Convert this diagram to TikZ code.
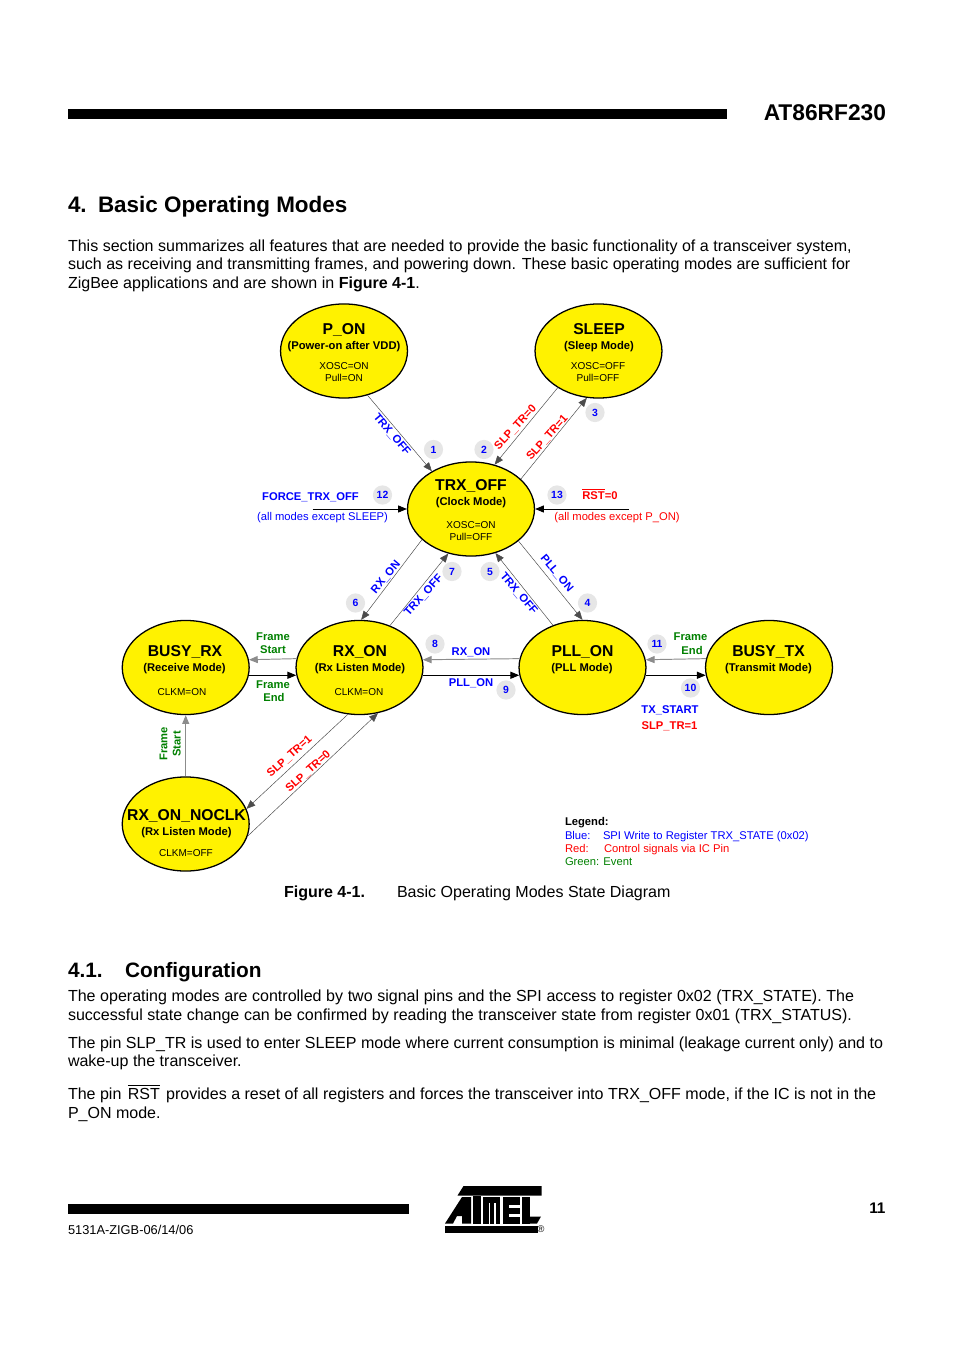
\documentclass[tikz,border=0pt]{standalone}
\usepackage{fontspec}
\setmainfont{Liberation Sans}
\usetikzlibrary{arrows.meta,shapes.geometric}
\definecolor{lblue}{HTML}{0000FF}
\definecolor{lred}{HTML}{FF0000}
\definecolor{lgreen}{HTML}{008000}
\definecolor{lgray}{HTML}{E6E6E6}
\newcommand{\fs}[1]{\fontsize{#1}{#1}\selectfont}
\tikzset{
  state/.style={ellipse,draw=black,line width=0.8pt,fill=yellow,minimum width=79.2pt,minimum height=58.7pt,inner sep=0pt},
  txt/.style={inner sep=0pt,outer sep=0pt,anchor=center},
  title/.style={txt,font=\fs{9.8}\bfseries,text height=7.2pt,text depth=0pt},
  sub/.style={txt,font=\fs{7}\bfseries,text height=5pt,text depth=0pt},
  info/.style={txt,font=\fs{6.25},text height=4.5pt,text depth=0pt},
  lab/.style={txt,font=\fs{7}\bfseries,text height=5pt,text depth=0pt},
  thin lab/.style={txt,font=\fs{7},text height=5pt,text depth=0pt},
  num/.style={circle,fill=lgray,minimum size=12pt,inner sep=0pt,text=lblue,font=\fs{6.5}\bfseries},
  body/.style={inner sep=0pt,outer sep=0pt,anchor=base west,font=\fs{10}},
  leg/.style={inner sep=0pt,outer sep=0pt,anchor=base west,font=\fs{7}},
  conn/.style={-{Triangle[length=5.5pt,width=4.4pt]},line width=0.3pt,draw=black!70},
  connk/.style={-{Triangle[length=5.5pt,width=4.4pt]},line width=0.6pt,draw=black},
  connl/.style={-{Triangle[length=5.5pt,width=4.4pt]},line width=0.6pt,draw=black!45},
}
\begin{document}
\begin{tikzpicture}[x=0.624pt,y=-0.624pt]
\useasboundingbox (0,0) rectangle (954,1351);
% header
\fill[black] (68,109) rectangle (727,119);
\node[txt,anchor=base east,font=\fs{14.2}\bfseries] (hdr) at (886,120.5) {AT86RF230};
\node[txt,anchor=base west,font=\fs{14}\bfseries] (h1n) at (68,213) {4.};
\node[txt,anchor=base west,font=\fs{14}\bfseries] (h1) at (98,213) {Basic Operating Modes};
\node[body] (p1) at (68,252) {\makebox[489pt][s]{This section summarizes all features that are needed to provide the basic functionality of a transceiver system,}};
\node[body] (p2) at (68,270) {such as receiving and transmitting frames, and powering down. These basic operating modes are sufficient for};
\node[body] (p3) at (68,289) {ZigBee applications and are shown in \textbf{Figure 4-1}.};
% states
\node[state] (PON) at (344,351) {};
\node[state] (SLEEP) at (598.5,351) {};
\node[state] (TRX) at (471,509) {};
\node[state] (BRX) at (185.7,667.5) {};
\node[state] (RXON) at (359.5,667.5) {};
\node[state] (PLL) at (582.5,667.5) {};
\node[state] (BTX) at (769,667.5) {};
\node[state] (NOCLK) at (185.7,824) {};
\node[title] (a1) at (344,328.5) {P\_ON};
\node[sub] (a2) at (344,345) {(Power-on after VDD)};
\node[info] (a3) at (344,365.5) {XOSC=ON};
\node[info] (a4) at (344,377.5) {Pull=ON};
\node[title] (b1) at (599,328.5) {SLEEP};
\node[sub] (b2) at (599,345) {(Sleep Mode)};
\node[info] (b3) at (598,365.5) {XOSC=OFF};
\node[info] (b4) at (598,377.5) {Pull=OFF};
\node[title] (c1) at (471,485) {TRX\_OFF};
\node[sub] (c2) at (471,501) {(Clock Mode)};
\node[info] (c3) at (471,524.5) {XOSC=ON};
\node[info] (c4) at (471,537) {Pull=OFF};
\node[title] (d1) at (185,650.5) {BUSY\_RX};
\node[sub] (d2) at (184.5,667) {(Receive Mode)};
\node[info] (d3) at (182,691.5) {CLKM=ON};
\node[title] (e1) at (360,650.5) {RX\_ON};
\node[sub] (e2) at (360,667) {(Rx Listen Mode)};
\node[info] (e3) at (359,691.5) {CLKM=ON};
\node[title] (f1) at (582.5,650.5) {PLL\_ON};
\node[sub] (f2) at (582,667) {(PLL Mode)};
\node[title] (g1) at (768.5,650.5) {BUSY\_TX};
\node[sub] (g2) at (768.5,667) {(Transmit Mode)};
\node[title] (h1t) at (186.5,814.5) {RX\_ON\_NOCLK};
\node[sub] (h2t) at (186.5,831) {(Rx Listen Mode)};
\node[info] (h3t) at (186,852.5) {CLKM=OFF};
% connectors
\coordinate (f12) at (312.7,509);
\coordinate (f13) at (629,509);
\draw[conn] (PON.-62.4) -- (TRX.136);
\draw[conn] (SLEEP.222.3) -- (TRX.62.3);
\draw[conn] (TRX.31.7) -- (SLEEP.256.5);
\draw[connk] (f12) -- (TRX.west);
\draw[connk] (f13) -- (TRX.east);
\draw[conn] (TRX.212.9) -- (RXON.88.5);
\draw[conn] (RXON.54.3) -- (TRX.243.4);
\draw[conn] (PLL.125.3) -- (TRX.-61.4);
\draw[conn] (TRX.-34.3) -- (PLL.90);
\draw[connl] (PLL.172.8) -- (RXON.7.2);
\draw[connk] (RXON.-7.2) -- (PLL.187.2);
\draw[connl] (RXON.172.8) -- (BRX.7.2);
\draw[connk] (BRX.-7.2) -- (RXON.187.2);
\draw[connk] (PLL.-7.2) -- (BTX.187.2);
\draw[connl] (BTX.172.8) -- (PLL.7.2);
\draw[connl] (NOCLK.north) -- (BRX.south);
\draw[conn] (RXON.256.5) -- (NOCLK.14.4);
\draw[conn] (NOCLK.-11.5) -- (RXON.-68.4);
% rotated labels
\node[lab,text=lblue,rotate=-50] (r1) at (392.5,434) {TRX\_OFF};
\node[lab,text=lred,rotate=47] (r2) at (515,427) {SLP\_TR=0};
\node[lab,text=lred,rotate=48] (r3) at (546.7,437.3) {SLP\_TR=1};
\node[lab,text=lblue,rotate=50] (r4) at (385.3,576.7) {RX\_ON};
\node[lab,text=lblue,rotate=48] (r5) at (423,595) {TRX\_OFF};
\node[lab,text=lblue,rotate=-50] (r6) at (519.3,593) {TRX\_OFF};
\node[lab,text=lblue,rotate=-50] (r7) at (557.3,573) {PLL\_ON};
\node[lab,text=lred,rotate=42] (r8) at (289,756) {SLP\_TR=1};
\node[lab,text=lred,rotate=42] (r9) at (307.7,771) {SLP\_TR=0};
\node[lab,text=lgreen,rotate=90] (r10) at (163.3,744) {Frame};
\node[lab,text=lgreen,rotate=90] (r11) at (176.7,744) {Start};
% flat labels
\node[lab,text=lblue] (l1) at (310.5,496) {FORCE\_TRX\_OFF};
\node[thin lab,text=lblue] (l2) at (322.5,516.5) {(all modes except SLEEP)};
\node[lab,text=lred] (l3) at (600,495.5) {$\overline{\hbox{RST}}$=0};
\node[thin lab,text=lred] (l4) at (617,516.5) {(all modes except P\_ON)};
\node[lab,text=lgreen] (l5) at (273,636) {Frame};
\node[lab,text=lgreen] (l6) at (273,649) {Start};
\node[lab,text=lgreen] (l7) at (273,684.5) {Frame};
\node[lab,text=lgreen] (l8) at (274,697.5) {End};
\node[lab,text=lgreen] (l9) at (690.5,636) {Frame};
\node[lab,text=lgreen] (l10) at (692,650) {End};
\node[lab,text=lblue] (l11) at (471,651) {RX\_ON};
\node[lab,text=lblue] (l12) at (471,682) {PLL\_ON};
\node[lab,text=lblue] (l13) at (670,709) {TX\_START};
\node[lab,text=lred] (l14) at (669.5,725.5) {SLP\_TR=1};
% numbers
\node[num] (n1) at (433.5,449.5) {1};
\node[num] (n2) at (484,449.5) {2};
\node[num] (n3) at (595,412.5) {3};
\node[num] (n4) at (587.5,603) {4};
\node[num] (n5) at (490,571.5) {5};
\node[num] (n6) at (355.5,603) {6};
\node[num] (n7) at (452,571.5) {7};
\node[num] (n8) at (435,644) {8};
\node[num] (n9) at (506,690) {9};
\node[num] (n10) at (690.5,688) {10};
\node[num] (n11) at (657,644) {11};
\node[num] (n12) at (382.5,495) {12};
\node[num] (n13) at (557,495) {13};
% legend
\node[leg,font=\fs{7}\bfseries] (k0) at (565,825) {Legend:};
\node[leg,text=lblue] (k1) at (565,839) {Blue:};
\node[leg,text=lblue] (k1b) at (603,839) {SPI Write to Register TRX\_STATE (0x02)};
\node[leg,text=lred] (k2) at (565,852) {Red:};
\node[leg,text=lred] (k2b) at (604,852) {Control signals via IC Pin};
\node[leg,text=lgreen] (k3) at (565,865) {Green: Event};
% caption
\node[body,font=\fs{10}\bfseries] (cap1) at (284,897) {Figure 4-1.};
\node[body] (cap2) at (397,897) {Basic Operating Modes State Diagram};
% section 4.1
\node[body,font=\fs{13}\bfseries] (s1) at (68,977) {4.1.};
\node[body,font=\fs{13}\bfseries] (s2) at (125,977) {Configuration};
\node[body] (q1) at (68,1001) {\makebox[490.5pt][s]{The operating modes are controlled by two signal pins and the SPI access to register 0x02 (TRX\_STATE). The}};
\node[body] (q2) at (68,1020) {\makebox[489.2pt][s]{successful state change can be confirmed by reading the transceiver state from register 0x01 (TRX\_STATUS).}};
\node[body] (q3) at (68,1048) {The pin SLP\_TR is used to enter SLEEP mode where current consumption is minimal (leakage current only) and to};
\node[body] (q4) at (68,1066) {wake-up the transceiver.};
\node[body] (q5) at (68,1099) {The pin\hspace{0.12em} $\overline{\hbox{RST}}$\hspace{0.12em} provides a reset of all registers and forces the transceiver into TRX\_OFF mode, if the IC is not in the};
\node[body] (q6) at (68,1118) {P\_ON mode.};
% footer
\fill[black] (68,1204) rectangle (409,1214);
\node[body,font=\fs{8}] (ft) at (68,1234) {5131A-ZIGB-06/14/06};
\node[txt,anchor=base east,font=\fs{9.6}\bfseries] (pg) at (885.5,1213) {11};
% logo
\fill[black] (463.5,1186) -- (541.7,1186) -- (541.7,1195.5) -- (457.5,1195.5) -- cycle;
\fill[black] (445,1223.5) -- (462,1197) -- (471,1197) -- (471,1223.5) -- (462,1223.5) -- (462,1216) -- (457,1216) -- (453,1223.5) -- cycle;
\fill[black] (473,1195.5) rectangle (480.5,1223.5);
\fill[black] (483,1197) rectangle (500,1223.5);
\fill[white] (488.7,1203) rectangle (490.3,1223.5);
\fill[white] (494,1203) rectangle (495.6,1223.5);
\fill[black] (502.5,1197) rectangle (519.5,1223.5);
\fill[white] (509,1204.5) rectangle (519.5,1207.5);
\fill[white] (509,1213.5) rectangle (519.5,1216.5);
\fill[black] (522,1197) rectangle (530,1223.5);
\fill[black] (522,1216.5) -- (541,1216.5) -- (537,1223.5) -- (522,1223.5) -- cycle;
\fill[black] (445,1226) rectangle (538,1232.5);
\node[txt,font=\fs{6}] (reg) at (541,1229.5) {®};
\end{tikzpicture}
\end{document}
